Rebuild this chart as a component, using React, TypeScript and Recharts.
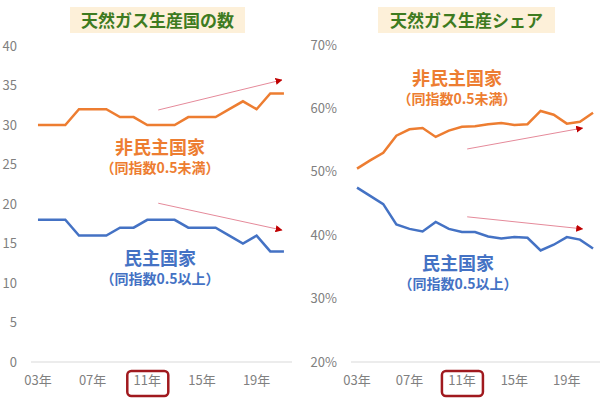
import { LineChart, Line, XAxis, YAxis, ReferenceLine } from "recharts"

const years = [2003, 2004, 2005, 2006, 2007, 2008, 2009, 2010, 2011, 2012, 2013, 2014, 2015, 2016, 2017, 2018, 2019, 2020, 2021]
const xTicks = [2003, 2007, 2011, 2015, 2019]

// 天然ガス生産国の数
const countNonDemo = [30, 30, 30, 32, 32, 32, 31, 31, 30, 30, 30, 31, 31, 31, 32, 33, 32, 34, 34]
const countDemo = [18, 18, 18, 16, 16, 16, 17, 17, 18, 18, 18, 17, 17, 17, 16, 15, 16, 14, 14]
const countTicks = [0, 5, 10, 15, 20, 25, 30, 35, 40]

// 天然ガス生産シェア (%)
const shareNonDemo = [50.5, 51.8, 53.0, 55.7, 56.7, 56.9, 55.5, 56.5, 57.1, 57.2, 57.5, 57.7, 57.4, 57.5, 59.6, 59.0, 57.6, 57.9, 59.3]
const shareDemo = [47.5, 46.2, 44.9, 41.7, 41.0, 40.6, 42.1, 41.0, 40.5, 40.5, 39.8, 39.5, 39.7, 39.6, 37.6, 38.5, 39.7, 39.3, 37.9]
const shareTicks = [20, 30, 40, 50, 60, 70]

const countData = years.map((year, i) => ({ year, nonDemo: countNonDemo[i], demo: countDemo[i] }))
const shareData = years.map((year, i) => ({ year, nonDemo: shareNonDemo[i], demo: shareDemo[i] }))

const ORANGE = "#ED7D31"
const BLUE = "#4472C4"
const GRAY = "#808080"
const FONT = "'Noto Sans CJK JP', 'Noto Sans', sans-serif"

function YearTick({ x, y, payload }: any) {
  const label = String(payload.value).slice(2) + "年"
  return (
    <g>
      <text x={x} y={y + 15} textAnchor="middle" fill={GRAY} fontSize={13} fontFamily={FONT}>
        {label}
      </text>
      {payload.value === 2011 && (
        <rect x={x - 20} y={y + 1} width={41} height={25} rx={4} fill="none" stroke="#A0191E" strokeWidth={2.5} />
      )}
    </g>
  )
}

function Title({ left, width, text }: { left: number; width: number; text: string }) {
  return (
    <div
      style={{
        position: "absolute", left, top: 7, width, height: 26, background: "#FDF0D9",
        color: "#3E7B1F", fontWeight: 700, fontSize: 17, lineHeight: "26px",
        textAlign: "center", fontFamily: FONT,
      }}
    >
      {text}
    </div>
  )
}

function Note({ cx, top, color, main, sub }: { cx: number; top: number; color: string; main: string; sub: string }) {
  return (
    <div style={{ position: "absolute", left: cx - 70, top, width: 140, textAlign: "center", color, fontFamily: FONT, fontWeight: 700 }}>
      <div style={{ fontSize: 18, lineHeight: "22px" }}>{main}</div>
      <div style={{ fontSize: 14, lineHeight: "20px" }}>{sub}</div>
    </div>
  )
}

const arrowProps = { stroke: "#E58A9A", strokeWidth: 1, markerEnd: "url(#arrowHead)" }

export default function App() {
  return (
    <div style={{ position: "absolute", left: 0, top: 0, width: 600, height: 398, background: "#fff", overflow: "hidden" }}>
      <svg width={0} height={0} style={{ position: "absolute" }}>
        <defs>
          <marker id="arrowHead" viewBox="0 0 10 10" refX="9" refY="5" markerWidth="7" markerHeight="7" orient="auto" markerUnits="userSpaceOnUse">
            <path d="M0,0 L10,5 L0,10 z" fill="#C00000" />
          </marker>
        </defs>
      </svg>

      <div style={{ position: "absolute", left: 0, top: 0 }}>
        <LineChart width={300} height={398} data={countData} margin={{ top: 46, right: 8, bottom: 0, left: 0 }}>
          <XAxis
            dataKey="year" type="number" domain={[2002.49, 2021.59]} allowDataOverflow ticks={xTicks}
            height={36} tickLine={false} axisLine={{ stroke: "#D9D9D9" }} tick={<YearTick />} interval={0}
          />
          <YAxis
            domain={[0, 40]} ticks={countTicks} width={31} tickSize={0} tickMargin={14}
            axisLine={false} tickLine={false} tick={{ fill: GRAY, fontSize: 13, fontFamily: FONT }}
          />
          <ReferenceLine segment={[{ x: 2011.8, y: 31.9 }, { x: 2020.85, y: 35.7 }]} {...arrowProps} />
          <ReferenceLine segment={[{ x: 2011.8, y: 20.1 }, { x: 2020.85, y: 16.7 }]} {...arrowProps} />
          <Line dataKey="nonDemo" stroke={ORANGE} strokeWidth={2.5} dot={false} isAnimationActive={false} />
          <Line dataKey="demo" stroke={BLUE} strokeWidth={2.5} dot={false} isAnimationActive={false} />
        </LineChart>
      </div>

      <div style={{ position: "absolute", left: 300, top: 0 }}>
        <LineChart width={300} height={398} data={shareData} margin={{ top: 45, right: 0, bottom: 0, left: 0 }}>
          <XAxis
            dataKey="year" type="number" domain={[2002.54, 2021.53]} allowDataOverflow ticks={xTicks}
            height={36} tickLine={false} axisLine={{ stroke: "#D9D9D9" }} tick={<YearTick />} interval={0}
          />
          <YAxis
            domain={[20, 70]} ticks={shareTicks} width={51} tickSize={0} tickMargin={14}
            axisLine={false} tickLine={false} tick={{ fill: GRAY, fontSize: 13, fontFamily: FONT }}
            tickFormatter={(v) => `${v}%`}
          />
          <ReferenceLine segment={[{ x: 2011.4, y: 53.6 }, { x: 2020.2, y: 56.9 }]} {...arrowProps} />
          <ReferenceLine segment={[{ x: 2011.4, y: 42.9 }, { x: 2020.2, y: 41.0 }]} {...arrowProps} />
          <Line dataKey="nonDemo" stroke={ORANGE} strokeWidth={2.5} dot={false} isAnimationActive={false} />
          <Line dataKey="demo" stroke={BLUE} strokeWidth={2.5} dot={false} isAnimationActive={false} />
        </LineChart>
      </div>

      <Title left={70} width={175} text="天然ガス生産国の数" />
      <Title left={378} width={177} text="天然ガス生産シェア" />

      <Note cx={160} top={135} color={ORANGE} main="非民主国家" sub="（同指数0.5未満）" />
      <Note cx={160} top={246} color={BLUE} main="民主国家" sub="（同指数0.5以上）" />
      <Note cx={457} top={66} color={ORANGE} main="非民主国家" sub="（同指数0.5未満）" />
      <Note cx={458} top={251} color={BLUE} main="民主国家" sub="（同指数0.5以上）" />
    </div>
  )
}
